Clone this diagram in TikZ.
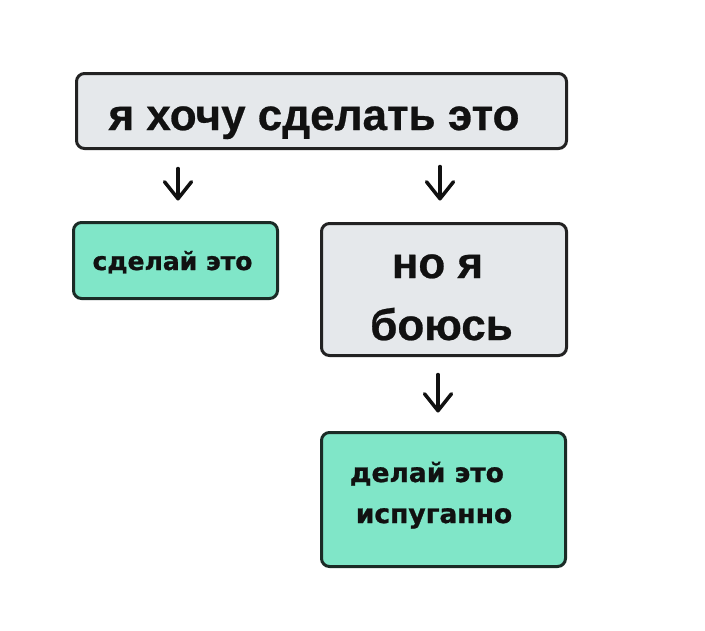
\documentclass[tikz,border=0pt]{standalone}
\usepackage{fontspec}
\setmainfont{Liberation Sans}[BoldFeatures={FakeBold=0.6}]
\newfontfamily\dvs{DejaVu Sans}[BoldFeatures={FakeBold=1}]
\usetikzlibrary{arrows.meta}
\definecolor{greyfill}{HTML}{E5E8EB}
\definecolor{greyline}{HTML}{222222}
\definecolor{greenfill}{HTML}{80E6C8}
\definecolor{greenline}{HTML}{1B2B26}
\definecolor{ink}{HTML}{111111}
\tikzset{
  box/.style={rectangle, rounded corners=8pt, line width=3pt, inner sep=0pt},
  greybox/.style={box, draw=greyline, fill=greyfill},
  greenbox/.style={box, draw=greenline, fill=greenfill},
  bigtxt/.style={anchor=base, inner sep=0pt, text=ink, font=\fontsize{44}{48}\selectfont\bfseries},
  smalltxt/.style={anchor=base, inner sep=0pt, text=ink, font=\dvs\fontsize{25}{28}\selectfont\bfseries},
  midtxt/.style={anchor=base, inner sep=0pt, text=ink, font=\dvs\fontsize{26.5}{30}\selectfont\bfseries},
  arr/.style={draw=ink, line width=3.5pt, line cap=round, line join=round,
    -{Straight Barb[length=17pt, width=27pt, line width=3.5pt, line cap=round, line join=round]}}
}
\begin{document}
\begin{tikzpicture}[x=1pt, y=-1pt]
\useasboundingbox (0,0) rectangle (705,630);
% boxes
\node[greybox, minimum width=490pt, minimum height=75pt] (top) at (321.5,111) {};
\node[greenbox, minimum width=204pt, minimum height=76pt] (left) at (175.5,260.5) {};
\node[greybox, minimum width=245pt, minimum height=132pt] (fear) at (444,289.5) {};
\node[greenbox, minimum width=244pt, minimum height=134pt] (scared) at (443.5,499.5) {};
% texts
\node[bigtxt] (t1) at (314,130) {я хочу сделать это};
\node[smalltxt] (t2) at (172.5,270) {сделай это};
\node[bigtxt] (t3) at (437.5,278) {но я};
\node[bigtxt] (t4) at (441.5,340) {боюсь};
\node[midtxt] (t5) at (427,482) {делай это};
\node[midtxt] (t6) at (434,523) {испуганно};
% arrows
\coordinate (xa) at (178,0);
\coordinate (xb) at (440,0);
\coordinate (xc) at (438,0);
\draw[arr, shorten <=18.5pt, shorten >=20.5pt] (top.south -| xa) -- (left.north -| xa);
\draw[arr, shorten <=16.5pt, shorten >=21.5pt] (top.south -| xb) -- (fear.north -| xb);
\draw[arr, shorten <=17.5pt, shorten >=18.5pt] (fear.south -| xc) -- (scared.north -| xc);
\end{tikzpicture}
\end{document}
